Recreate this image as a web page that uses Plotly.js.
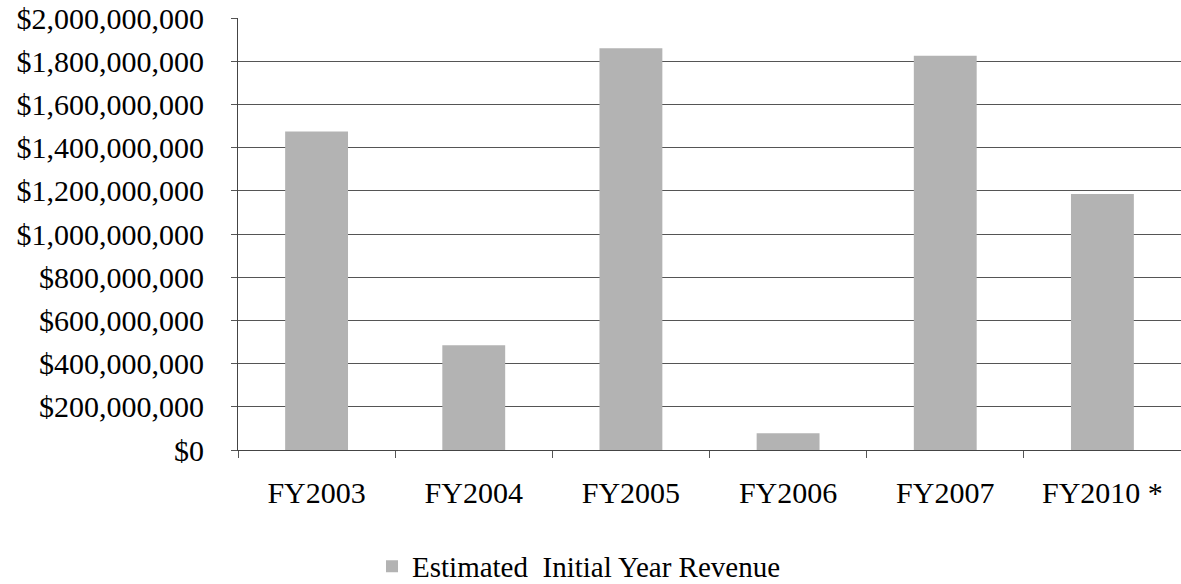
<!DOCTYPE html>
<html>
<head>
<meta charset="utf-8">
<script src="https://cdn.plot.ly/plotly-3.0.1.min.js"></script>
<style>html,body{margin:0;padding:0;background:#fff;}#chart{width:1181px;height:584px;}</style>
</head>
<body>
<div id="chart"></div>
<script>
const categories = ["FY2003", "FY2004", "FY2005", "FY2006", "FY2007", "FY2010 *"];
const revenue = [1475000000, 485000000, 1860000000, 78000000, 1825000000, 1185000000];
const seriesName = "Estimated\u00a0 Initial Year Revenue";
const yTickVals = [0, 200000000, 400000000, 600000000, 800000000, 1000000000, 1200000000, 1400000000, 1600000000, 1800000000, 2000000000];

const font = {family: "Liberation Serif, Times New Roman, serif", size: 30, color: "#000"};

Plotly.newPlot("chart", [{
  type: "bar",
  x: categories,
  y: revenue,
  name: seriesName,
  marker: {color: "#b3b3b3", line: {width: 0}},
  showlegend: true
}], {
  width: 1181, height: 584,
  margin: {l: 238, r: 0, t: 18, b: 134, pad: 0},
  paper_bgcolor: "#fff", plot_bgcolor: "#fff",
  font: font,
  bargap: 0.6,
  xaxis: {
    type: "category",
    showgrid: false,
    showline: true, linecolor: "#444", linewidth: 1,
    ticks: "outside", tickson: "boundaries", ticklen: 7, tickcolor: "#555",
    ticklabelstandoff: 16,
    tickfont: font,
    zeroline: false
  },
  yaxis: {
    range: [0, 2000000000],
    tickvals: yTickVals,
    tickformat: "$,.0f",
    showgrid: true, gridcolor: "#555", gridwidth: 1,
    showline: true, linecolor: "#444", linewidth: 1,
    ticks: "outside", ticklen: 6, tickcolor: "#555",
    tickfont: font,
    zeroline: false,
    ticklabelstandoff: 21
  },
  legend: {
    orientation: "h",
    xref: "container", yref: "container",
    x: 0.315, y: 0.074, xanchor: "left", yanchor: "top",
    font: {family: font.family, size: 29, color: "#000"}
  }
}, {displayModeBar: false, staticPlot: true});
</script>
</body>
</html>
